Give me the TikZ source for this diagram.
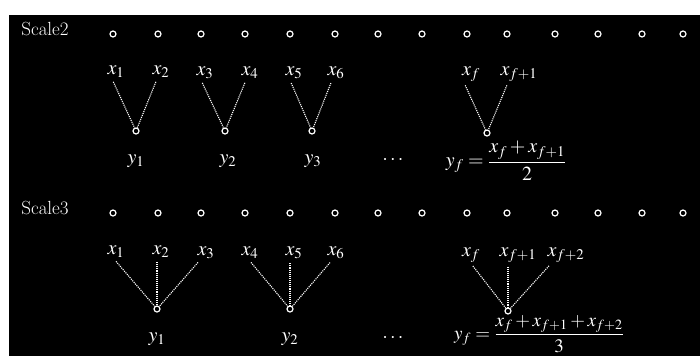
\documentclass[tikz,border=0pt]{standalone}
\usepackage{mathptmx}
\begin{document}
\begin{tikzpicture}[x=1pt,y=-1pt,
  dot/.style={circle,draw=white,line width=1.2pt,inner sep=0pt,minimum size=6pt},
  lbl/.style={text=white,inner sep=1pt,font=\fontsize{20}{22}\selectfont},
  frm/.style={lbl,inner sep=0pt,font=\fontsize{19}{21}\selectfont},
  scl/.style={text=white,inner sep=0pt,font=\fontsize{19}{21}\selectfont},
  link/.style={draw=white,line width=1.1pt,densely dotted,shorten <=3pt}]
\useasboundingbox (0,0) rectangle (700,356);
\fill[white] (0,0) rectangle (700,356);
\fill[black] (9,15) rectangle (700,356);
% scale labels
\node[scl] (s2) at (45,29) {Scale2};
\node[scl] (s3) at (45,208) {Scale3};
% top rows of circles
\foreach \i/\xx in {1/113,2/158,3/201,4/245,5/290,6/335,7/378,8/422,9/467,10/507,11/555,12/598,13/642,14/683}{
  \node[dot] (a\i) at (\xx,34) {};
  \node[dot] (b\i) at (\xx,213) {};
}
% ---- Scale 2 ----
\node[lbl] (p1) at (116,72) {$x_1$};
\node[lbl] (p2) at (161,72) {$x_2$};
\node[lbl] (p3) at (205,73) {$x_3$};
\node[lbl] (p4) at (250,73) {$x_4$};
\node[lbl] (p5) at (294,73) {$x_5$};
\node[lbl] (p6) at (336,73) {$x_6$};
\node[lbl] (pf) at (471,74) {$x_f$};
\node[lbl] (pg) at (519,74) {$x_{f+1}$};
\node[dot] (c1) at (136,131) {};
\node[dot] (c2) at (225,131) {};
\node[dot] (c3) at (312,131) {};
\node[dot] (cf) at (487,133) {};
\draw[link] ([xshift=-4pt]p1.south) -- (c1);
\draw[link] ([xshift=-4pt]p2.south) -- (c1);
\draw[link] ([xshift=-4pt]p3.south) -- (c2);
\draw[link] ([xshift=-4pt]p4.south) -- (c2);
\draw[link] ([xshift=-4pt]p5.south) -- (c3);
\draw[link] ([xshift=-4pt]p6.south) -- (c3);
\draw[link] ([xshift=-7pt]pf.south) -- (cf);
\draw[link] ([xshift=-11pt]pg.south) -- (cf);
\node[lbl] (q1) at (136,161) {$y_1$};
\node[lbl] (q2) at (228,161) {$y_2$};
\node[lbl] (q3) at (313,161) {$y_3$};
\node[lbl] (qd) at (393,160) {$\cdots$};
\node[lbl] (qf) at (506,161) {$\displaystyle y_f=\frac{x_f+x_{f+1}}{2}$};
% ---- Scale 3 ----
\node[lbl] (r1) at (116,252) {$x_1$};
\node[lbl] (r2) at (161,252) {$x_2$};
\node[lbl] (r3) at (206,253) {$x_3$};
\node[lbl] (r4) at (250,253) {$x_4$};
\node[lbl] (r5) at (294,253) {$x_5$};
\node[lbl] (r6) at (336,253) {$x_6$};
\node[lbl] (rf) at (471,255) {$x_f$};
\node[lbl] (rg) at (518,255) {$x_{f+1}$};
\node[lbl] (rh) at (566,255) {$x_{f+2}$};
\node[dot] (d1) at (157,309) {};
\node[dot] (d2) at (290,309) {};
\node[dot] (df) at (508,311) {};
\draw[link] ([xshift=-2pt]r1.south) -- (d1);
\draw[link] ([xshift=-4pt]r2.south) -- (d1);
\draw[link] ([xshift=-6pt]r3.south) -- (d1);
\draw[link] ([xshift=-1pt]r4.south) -- (d2);
\draw[link] ([xshift=-4pt]r5.south) -- (d2);
\draw[link] ([xshift=-4pt]r6.south) -- (d2);
\draw[link] ([xshift=0pt]rf.south) -- (df);
\draw[link] ([xshift=-10pt]rg.south) -- (df);
\draw[link] ([xshift=-15pt]rh.south) -- (df);
\node[lbl] (t1) at (157,339) {$y_1$};
\node[lbl] (t2) at (290,339) {$y_2$};
\node[lbl] (td) at (393,338) {$\cdots$};
\node[frm] (tf) at (539,334) {$\displaystyle y_f=\frac{x_f+x_{f+1}+x_{f+2}}{3}$};
\end{tikzpicture}
\end{document}
